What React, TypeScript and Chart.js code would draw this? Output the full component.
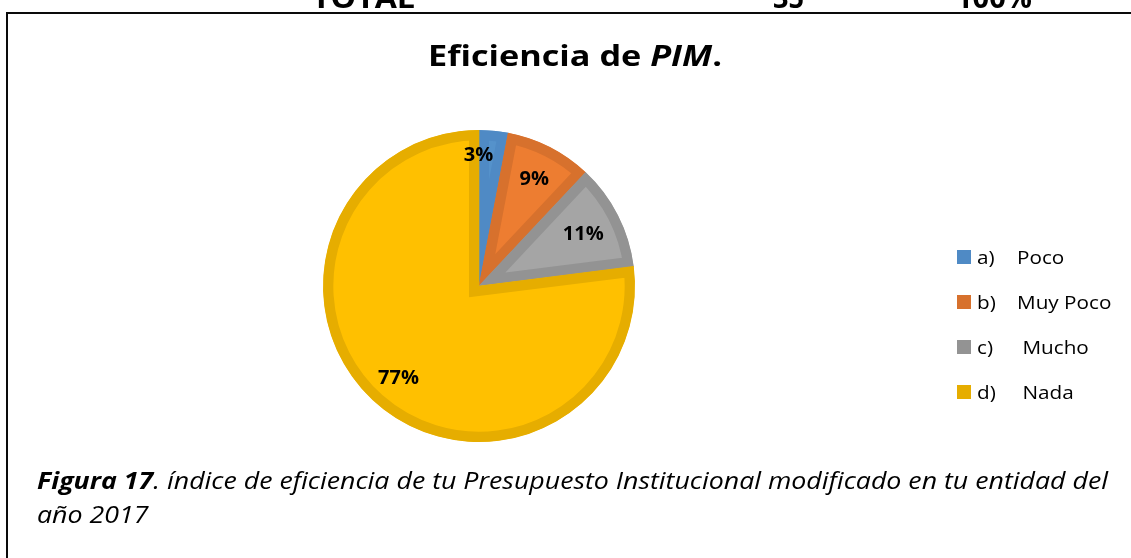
import React, { useEffect, useRef } from 'react';
import { Chart, registerables } from 'chart.js';

Chart.register(...registerables);

// ---- Data ----
const categories = ['a)\tPoco', 'b)\tMuy Poco', 'c)\t Mucho', 'd)\t Nada'];
const percentages = [3, 9, 11, 77];
const fillColors = ['#5592CB', '#ED7D31', '#A5A5A5', '#FFC000'];
const borderColors = ['#4F8AC5', '#D7712D', '#939393', '#E6AD00'];
const chartTitleMain = 'Eficiencia de ';
const chartTitleItalic = 'PIM';
const chartTitleEnd = '.';
const captionBold = 'Figura 17';
const captionRest = '. índice de eficiencia de tu Presupuesto Institucional modificado en tu entidad del';
const captionLine2 = 'año 2017';
const topRowTexts = ['TOTAL', '35', '100%'];

const FONT = '"Open Sans", "Noto Sans", Arial, sans-serif';

type Run = { text: string; font: string };

function runsWidth(ctx: CanvasRenderingContext2D, runs: Run[]) {
  let w = 0;
  for (const r of runs) {
    ctx.font = r.font;
    w += ctx.measureText(r.text).width;
  }
  return w;
}

function drawRuns(ctx: CanvasRenderingContext2D, runs: Run[], x: number, y: number, sx: number) {
  ctx.save();
  ctx.translate(x, y);
  ctx.scale(sx, 1);
  ctx.textAlign = 'left';
  ctx.textBaseline = 'alphabetic';
  let cx = 0;
  for (const r of runs) {
    ctx.font = r.font;
    ctx.fillText(r.text, cx, 0);
    cx += ctx.measureText(r.text).width;
  }
  ctx.restore();
}

const decorPlugin = {
  id: 'decor',
  beforeDraw(chart: any) {
    const ctx: CanvasRenderingContext2D = chart.ctx;
    const W = chart.width;
    const H = chart.height;
    ctx.save();
    ctx.fillStyle = '#ffffff';
    ctx.fillRect(0, 0, W, H);

    // frame
    ctx.fillStyle = '#0a0a0a';
    ctx.fillRect(6, 12, W, 2);
    ctx.fillRect(6, 12, 2, H);

    // cropped table row above the frame
    ctx.fillStyle = '#000';
    const topFont = `bold 28px ${FONT}`;
    const topX = [312, 773, 956];
    const topW = [103, 31, 76];
    topRowTexts.forEach((t, i) => {
      const runs = [{ text: t, font: topFont }];
      const sx = topW[i] / runsWidth(ctx, runs);
      drawRuns(ctx, runs, topX[i], 8, sx);
    });

    // title
    const titleRuns: Run[] = [
      { text: chartTitleMain, font: `bold 28px ${FONT}` },
      { text: chartTitleItalic, font: `italic bold 28px ${FONT}` },
      { text: chartTitleEnd, font: `bold 28px ${FONT}` },
    ];
    const tsx = 294 / runsWidth(ctx, titleRuns);
    drawRuns(ctx, titleRuns, 428, 66, tsx);

    // caption
    const capRuns: Run[] = [
      { text: captionBold, font: `italic bold 24px ${FONT}` },
      { text: captionRest, font: `italic 24px ${FONT}` },
    ];
    const csx = 1071 / runsWidth(ctx, capRuns);
    drawRuns(ctx, capRuns, 37, 489, csx);
    drawRuns(ctx, [{ text: captionLine2, font: `italic 24px ${FONT}` }], 37, 523, csx);
    ctx.restore();
  },
  afterDatasetsDraw(chart: any) {
    const ctx: CanvasRenderingContext2D = chart.ctx;
    const meta = chart.getDatasetMeta(0);
    const fracs = [0.85, 0.78, 0.75, 0.78];
    const nudgeX = [-13, 0, 0, 0];
    ctx.save();
    ctx.fillStyle = '#000';
    ctx.font = `bold 20px ${FONT}`;
    ctx.textAlign = 'center';
    ctx.textBaseline = 'alphabetic';
    meta.data.forEach((arc: any, i: number) => {
      const p = arc.getProps(['x', 'y', 'startAngle', 'endAngle', 'outerRadius'], true);
      const mid = (p.startAngle + p.endAngle) / 2;
      const r = p.outerRadius * fracs[i];
      const x = p.x + Math.cos(mid) * r + nudgeX[i];
      const y = p.y + Math.sin(mid) * r;
      ctx.fillText(`${percentages[i]}%`, x, y + 7);
    });
    ctx.restore();
  },
  afterDraw(chart: any) {
    const ctx: CanvasRenderingContext2D = chart.ctx;
    const labels: string[] = chart.data.labels;
    ctx.save();
    const lsx = 1.09;
    labels.forEach((lab, i) => {
      const cy = 257 + i * 45;
      ctx.fillStyle = borderColors[i];
      ctx.fillRect(957, cy - 7, 14, 14);
      ctx.fillStyle = '#000';
      const [prefix, name] = lab.split('\t');
      drawRuns(ctx, [{ text: prefix, font: `19px ${FONT}` }], 977, cy + 7, lsx);
      drawRuns(ctx, [{ text: name, font: `19px ${FONT}` }], 1017, cy + 7, lsx);
    });
    ctx.restore();
  },
};

export default function App() {
  const canvasRef = useRef<HTMLCanvasElement | null>(null);

  useEffect(() => {
    document.body.style.margin = '0';
    document.body.style.overflow = 'hidden';
    if (!canvasRef.current) return;
    const chart = new Chart(canvasRef.current, {
      type: 'pie',
      data: {
        labels: categories,
        datasets: [
          {
            data: percentages,
            backgroundColor: fillColors,
            borderColor: borderColors,
            borderWidth: 10,
            borderAlign: 'inner',
            borderJoinStyle: 'miter',
            hoverOffset: 0,
          } as any,
        ],
      },
      options: {
        responsive: false,
        animation: false,
        events: [],
        layout: { padding: { left: 323, right: 496, top: 130, bottom: 116 } },
        plugins: {
          legend: { display: false },
          title: { display: false },
          tooltip: { enabled: false },
        },
      },
      plugins: [decorPlugin],
    });
    return () => chart.destroy();
  }, []);

  return (
    <div style={{ position: 'absolute', left: 0, top: 0, width: 1131, height: 558, overflow: 'hidden', background: '#fff' }}>
      <canvas ref={canvasRef} width={1131} height={558} style={{ display: 'block', width: 1131, height: 558 }} />
    </div>
  );
}
